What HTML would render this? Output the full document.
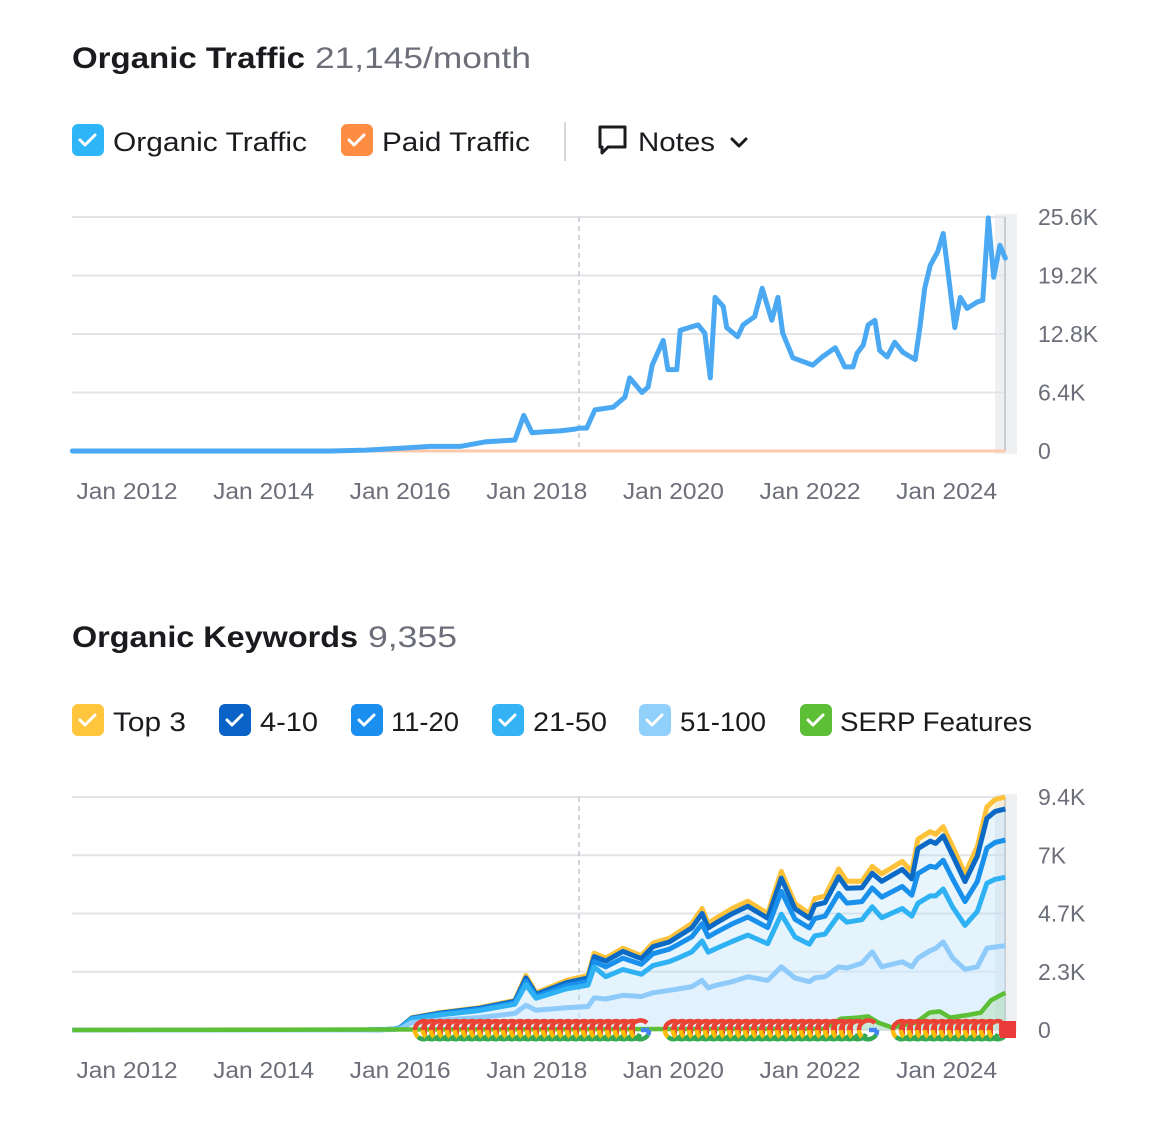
<!DOCTYPE html>
<html><head><meta charset="utf-8">
<style>
html,body{margin:0;padding:0;background:#fff;}
svg{display:block;font-family:"Liberation Sans",sans-serif;}
</style></head>
<body>
<svg id="root" width="1160" height="1142" viewBox="0 0 1160 1142" xmlns="http://www.w3.org/2000/svg">
  <text x="72" y="68" font-size="30" font-weight="bold" fill="#1b1b1f" textLength="233" lengthAdjust="spacingAndGlyphs">Organic Traffic</text>
  <text x="315" y="68" font-size="30" fill="#6c6e79" textLength="216" lengthAdjust="spacingAndGlyphs">21,145/month</text>

  <g>
    <rect x="72" y="124" width="32" height="32" rx="6" fill="#2eb5f7"/>
    <path d="M80 140 l5 5 l10 -10" stroke="#fff" stroke-width="3" fill="none" stroke-linecap="round" stroke-linejoin="round"/>
    <text x="113" y="151" font-size="27" fill="#1b1b1f" textLength="194" lengthAdjust="spacingAndGlyphs">Organic Traffic</text>
  </g>
  <g>
    <rect x="341" y="124" width="32" height="32" rx="6" fill="#ff8c43"/>
    <path d="M349 140 l5 5 l10 -10" stroke="#fff" stroke-width="3" fill="none" stroke-linecap="round" stroke-linejoin="round"/>
    <text x="382" y="151" font-size="27" fill="#1b1b1f" textLength="148" lengthAdjust="spacingAndGlyphs">Paid Traffic</text>
  </g>
  <line x1="565" y1="122" x2="565" y2="161" stroke="#d6d8dc" stroke-width="2"/>
  <g>
    <path d="M600 127 h25 v20 h-17 l-6 6 v-6 h-2 z" fill="none" stroke="#1b1b1f" stroke-width="3" stroke-linejoin="round"/>
    <text x="638" y="151" font-size="27" fill="#1b1b1f" textLength="77" lengthAdjust="spacingAndGlyphs">Notes</text>
    <path d="M732 139 l7 7 l7 -7" fill="none" stroke="#1b1b1f" stroke-width="3" stroke-linecap="round" stroke-linejoin="round"/>
  </g>

  <g id="chart1"></g>

  <text x="72" y="647" font-size="30" font-weight="bold" fill="#1b1b1f" textLength="286" lengthAdjust="spacingAndGlyphs">Organic Keywords</text>
  <text x="368" y="647" font-size="30" fill="#6c6e79" textLength="89" lengthAdjust="spacingAndGlyphs">9,355</text>

  <g id="legend2"></g>
  <g id="chart2"></g>
</svg>
<script>
// ===== Chart 1 data: Organic Traffic (dates in decimal years, values in K) =====
const trafficDates = [2011.2,2015.0,2015.5,2016.0,2016.44,2016.88,2017.24,2017.68,2017.81,2017.93,2018.12,2018.34,2018.56,2018.63,
 2018.73,2018.85,2019.12,2019.29,2019.36,2019.54,2019.63,2019.69,2019.85,2019.92,2020.05,2020.10,2020.36,2020.46,2020.54,2020.61,
 2020.73,2020.78,2020.94,2021.02,2021.19,2021.30,2021.44,2021.53,2021.60,2021.75,2022.04,2022.18,2022.37,2022.51,2022.63,2022.69,
 2022.78,2022.85,2022.95,2023.02,2023.13,2023.24,2023.36,2023.54,2023.61,2023.68,2023.76,2023.87,2023.95,2024.02,2024.12,2024.20,
 2024.30,2024.45,2024.53,2024.61,2024.69,2024.78,2024.86];
const organicTraffic = [0,0,0.1,0.3,0.5,0.5,1.0,1.2,3.9,2.0,2.1,2.2,2.4,2.5,
 2.5,4.5,4.8,5.9,8.0,6.4,7.0,9.4,12.1,8.9,8.9,13.2,13.8,12.9,8.0,16.8,
 15.8,13.5,12.5,13.8,14.7,17.8,14.3,16.8,12.9,10.2,9.4,10.3,11.3,9.2,9.2,10.7,
 11.6,13.8,14.3,11.0,10.3,11.9,10.8,10.0,13.6,17.8,20.3,21.8,23.8,19.6,13.5,16.8,
 15.6,16.3,16.5,25.5,19.0,22.5,21.1];
const paidDates = [2011.2,2016.4,2024.86];
const paidTraffic = [0,0,0];
const trafficTicks = [0,6.4,12.8,19.2,25.6];
const trafficTickLabels = ["0","6.4K","12.8K","19.2K","25.6K"];
const yearTicks = [2012,2014,2016,2018,2020,2022,2024];
const yearTickLabels = ["Jan 2012","Jan 2014","Jan 2016","Jan 2018","Jan 2020","Jan 2022","Jan 2024"];

// ===== Chart 2 data: Organic Keywords (values in K, per position group) =====
const kwDates = [2011.2,2015.5,2015.9,2016.0,2016.17,2016.58,2017.15,2017.68,2017.84,2017.99,2018.43,2018.75,2018.84,2019.01,
 2019.26,2019.53,2019.70,2019.94,2020.05,2020.27,2020.42,2020.51,2020.62,2020.86,2021.09,2021.38,2021.58,2021.78,2021.99,2022.07,
 2022.22,2022.42,2022.54,2022.76,2022.91,2023.05,2023.35,2023.49,2023.58,2023.76,2023.84,2023.95,2024.09,2024.27,2024.45,2024.59,
 2024.71,2024.86];
const kw51to100 = [0,0,0.02,0.05,0.3,0.4,0.5,0.67,1.0,0.8,0.9,0.95,1.3,1.25,
 1.4,1.35,1.5,1.6,1.65,1.75,2.0,1.7,1.8,1.95,2.15,2.0,2.55,2.1,1.95,2.1,
 2.15,2.55,2.5,2.7,3.15,2.55,2.75,2.55,2.9,3.2,3.3,3.55,2.9,2.45,2.55,3.3,
 3.35,3.4];
const kw21to50 = [0,0,0.01,0.03,0.14,0.21,0.28,0.37,0.83,0.48,0.76,0.86,1.24,0.90,
 1.04,0.90,1.10,1.16,1.23,1.40,1.59,1.44,1.48,1.62,1.68,1.48,2.12,1.65,1.51,1.70,
 1.72,2.09,1.85,1.75,1.82,1.98,2.15,2.04,2.21,2.21,2.11,2.14,2.06,1.77,2.23,2.62,
 2.73,2.76];
const kw11to20 = [0,0,0,0.01,0.02,0.04,0.05,0.06,0.14,0.08,0.13,0.15,0.22,0.40,
 0.46,0.40,0.48,0.50,0.54,0.61,0.70,0.62,0.65,0.71,0.73,0.65,0.92,0.72,0.66,0.70,
 0.72,0.87,0.77,0.73,0.76,0.83,0.89,0.85,1.20,1.20,1.15,1.16,1.13,0.96,1.21,1.42,
 1.49,1.50];
const kw4to10 = [0,0,0,0.01,0.02,0.03,0.04,0.06,0.13,0.08,0.12,0.14,0.20,0.23,
 0.27,0.23,0.28,0.29,0.32,0.36,0.41,0.36,0.38,0.41,0.43,0.38,0.54,0.42,0.39,0.54,
 0.55,0.67,0.60,0.56,0.59,0.64,0.69,0.65,1.01,1.01,0.97,0.98,0.95,0.81,1.02,1.20,
 1.25,1.26];
const kwTop3 = [0,0,0,0,0.02,0.02,0.03,0.04,0.10,0.06,0.09,0.10,0.14,0.12,
 0.13,0.12,0.14,0.15,0.16,0.18,0.20,0.18,0.19,0.21,0.21,0.19,0.27,0.21,0.19,0.26,
 0.26,0.32,0.28,0.26,0.28,0.30,0.32,0.31,0.38,0.38,0.37,0.37,0.36,0.31,0.39,0.46,
 0.48,0.48];
const serpDates = [2011.2,2022.2,2022.45,2022.7,2022.85,2023.0,2023.2,2023.55,2023.75,2023.9,2024.05,2024.3,2024.5,2024.65,2024.86];
const serpFeatures = [0,0.05,0.45,0.5,0.55,0.3,0.1,0.3,0.7,0.75,0.5,0.6,0.7,1.2,1.5];
const kwTicks = [0,2.35,4.7,7.05,9.4];
const kwTickLabels = ["0","2.3K","4.7K","7K","9.4K"];

const NS = "http://www.w3.org/2000/svg";
function mk(tag, attrs, parent){
  const e = document.createElementNS(NS, tag);
  for (const k in attrs) e.setAttribute(k, attrs[k]);
  parent.appendChild(e);
  return e;
}
const X0 = 72;
const yearPx = 68.3, yearRef = 2012, yearRefPx = 127;
function xScale(yr){ return yearRefPx + (yr - yearRef) * yearPx; }
function pathFrom(xs, ys){
  return xs.map((x,i)=> (i?"L":"M") + x.toFixed(1) + " " + ys[i].toFixed(1)).join(" ");
}

function drawFrame(g, top, bottom, ticks, labels, maxV, labelY){
  const yS = v => bottom - (v / maxV) * (bottom - top);
  const band = mk("rect", {x:995, y:top-3, width:22, height:bottom-top+6, fill:"#eef0f1"}, g);
  
  
  ticks.forEach((t,i)=>{
    const y = yS(t);
    const gl = mk("line", {x1:X0, x2:1005, y1:y, y2:y, stroke:"#e3e4e8", "stroke-width":2}, g);
    
    
    const tl = mk("text", {x:1038, y:y+8, "font-size":23, fill:"#6c6e79"}, g);
    tl.textContent = labels[i];
    
    
  });
  const dl = mk("line", {x1:579, x2:579, y1:top, y2:bottom, stroke:"#c4c7cf", "stroke-width":1.5, "stroke-dasharray":"5 4"}, g);
  
  
  yearTicks.forEach((yr,i)=>{
    const t = mk("text", {x:xScale(yr), y:labelY, "font-size":23, fill:"#6c6e79", "text-anchor":"middle", textLength:101, lengthAdjust:"spacingAndGlyphs"}, g);
    t.textContent = yearTickLabels[i];
    
    
  });
  const rl = mk("line", {x1:1005, x2:1005, y1:top, y2:bottom, stroke:"#c9cdd1", "stroke-width":2}, g);
  
  
  return yS;
}

// ===== Chart 1 =====
(function(){
  const g = document.getElementById("chart1");
  const yS = drawFrame(g, 217, 451, trafficTicks, trafficTickLabels, 25.6, 499);
  const px = paidDates.map(xScale), py = paidTraffic.map(yS);
  const p = mk("path", {d:pathFrom(px,py), stroke:"#ffc9ad", "stroke-width":3, fill:"none"}, g);
  
  
  const ox = trafficDates.map(xScale), oy = organicTraffic.map(yS);
  const o = mk("path", {d:pathFrom(ox,oy), stroke:"#4aa9f2", "stroke-width":5, fill:"none", "stroke-linejoin":"round", "stroke-linecap":"round"}, g);
  
  
})();

// ===== Legend 2 =====
(function(){
  const g = document.getElementById("legend2");
  const items = [
    ["Top 3", 72, "#ffc53d", 113, 73, "legend-top-3"],
    ["4-10", 219, "#0a64c8", 260, 58, "legend-4-10"],
    ["11-20", 351, "#1a8ff0", 391, 68, "legend-11-20"],
    ["21-50", 492, "#33b3f5", 533, 74, "legend-21-50"],
    ["51-100", 639, "#91d0fb", 680, 86, "legend-51-100"],
    ["SERP Features", 800, "#5cbf36", 840, 192, "legend-serp-features"]
  ];
  items.forEach(it=>{
    const gg = mk("g", {}, g);
    
    
    mk("rect", {x:it[1], y:704, width:32, height:32, rx:6, fill:it[2]}, gg);
    mk("path", {d:`M${it[1]+8} 720 l5 5 l10 -10`, stroke:"#fff", "stroke-width":3, fill:"none", "stroke-linecap":"round", "stroke-linejoin":"round"}, gg);
    const t = mk("text", {x:it[3], y:731, "font-size":27, fill:"#1b1b1f", textLength:it[4], lengthAdjust:"spacingAndGlyphs"}, gg);
    t.textContent = it[0];
  });
})();

// ===== Chart 2 =====
(function(){
  const g = document.getElementById("chart2");
  const yS = drawFrame(g, 797, 1030, kwTicks, kwTickLabels, 9.4, 1078);
  const xs = kwDates.map(xScale);
  const series = [
    {v:kw51to100, c:"#8fcbfa", f:"rgba(200,230,252,0.55)", n:"series-51-100"},
    {v:kw21to50, c:"#2fb2f4", f:"rgba(180,222,250,0.35)", n:"series-21-50"},
    {v:kw11to20, c:"#1990ec", f:"rgba(180,222,250,0.3)", n:"series-11-20"},
    {v:kw4to10, c:"#0a6ac6", f:"rgba(180,222,250,0.3)", n:"series-4-10"},
    {v:kwTop3, c:"#fdc23a", f:"rgba(255,230,160,0.3)", n:"series-top-3"}
  ];
  let cum = kwDates.map(()=>0);
  const layers = [];
  series.forEach(s=>{
    const lower = cum.slice();
    cum = cum.map((c,i)=> c + s.v[i]);
    layers.push({s, lower, upper:cum.slice()});
  });
  layers.forEach(L=>{
    const up = L.upper.map(yS), lo = L.lower.map(yS);
    let d = pathFrom(xs, up);
    for (let i = xs.length-1; i>=0; i--) d += " L" + xs[i].toFixed(1) + " " + lo[i].toFixed(1);
    d += " Z";
    const a = mk("path", {d, fill:L.s.f, stroke:"none"}, g);
    
    
  });
  for (let k = layers.length-1; k>=0; k--){
    const L = layers[k];
    const ln = mk("path", {d:pathFrom(xs, L.upper.map(yS)), stroke:L.s.c, "stroke-width":5, fill:"none", "stroke-linejoin":"round"}, g);
    
    
  }
  const sx = serpDates.map(xScale), sy = serpFeatures.map(yS);
  let d = pathFrom(sx, sy) + ` L${sx[sx.length-1]} ${yS(0)} L${sx[0]} ${yS(0)} Z`;
  const sa = mk("path", {d, fill:"rgba(140,210,110,0.25)"}, g);
  
  
  const sl = mk("path", {d:pathFrom(sx, sy), stroke:"#5cbf36", "stroke-width":4.5, fill:"none", "stroke-linejoin":"round"}, g);
  
  

  // Google update markers row (decorative)
  const mg = mk("g", {}, g);
  
  
  const groups = [[415, 625], [665, 855], [893, 992]];
  groups.forEach(gr=>{
    for (let x = gr[0]; x <= gr[1]; x += 8){
      const cx = x + 9, cy = 1030;
      mk("path", {d:`M${cx+4} ${cy-8} A9 9 0 0 0 ${cx-9} ${cy}`, stroke:"#ea4335", "stroke-width":4.5, fill:"none"}, mg);
      mk("path", {d:`M${cx-9} ${cy} A9 9 0 0 0 ${cx-6} ${cy+7}`, stroke:"#fbbc05", "stroke-width":4.5, fill:"none"}, mg);
      mk("path", {d:`M${cx-6} ${cy+7} A9 9 0 0 0 ${cx+8} ${cy+4}`, stroke:"#34a853", "stroke-width":4.5, fill:"none"}, mg);
      mk("line", {x1:cx+2, y1:cy-8, x2:cx+2, y2:cy+6, stroke:"#ea4335", "stroke-width":2}, mg);
    }
  });
  [[640,1030],[868,1030]].forEach(p=>{
    const cx = p[0], cy = p[1];
    mk("path", {d:`M${cx+7} ${cy-7} A9.5 9.5 0 0 0 ${cx-9} ${cy}`, stroke:"#ea4335", "stroke-width":4.5, fill:"none"}, mg);
    mk("path", {d:`M${cx-9} ${cy} A9.5 9.5 0 0 0 ${cx-6} ${cy+7}`, stroke:"#fbbc05", "stroke-width":4.5, fill:"none"}, mg);
    mk("path", {d:`M${cx-6} ${cy+7} A9.5 9.5 0 0 0 ${cx+8} ${cy+5}`, stroke:"#34a853", "stroke-width":4.5, fill:"none"}, mg);
    mk("path", {d:`M${cx+9} ${cy} H${cx+1} M${cx+9} ${cy} A9.5 9.5 0 0 1 ${cx+8} ${cy+5}`, stroke:"#4285f4", "stroke-width":4.5, fill:"none"}, mg);
  });
  mk("rect", {x:1000, y:1021, width:16, height:17, fill:"#ea3a3a"}, mg);
})();
</script>
</body></html>
